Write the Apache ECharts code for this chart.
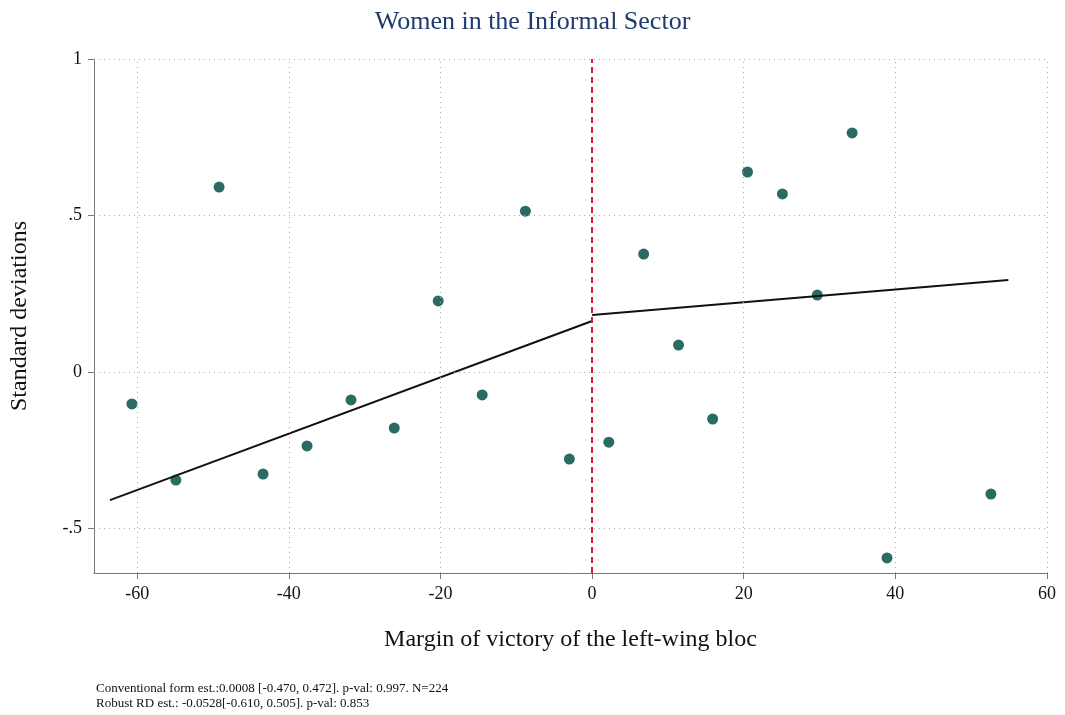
<!DOCTYPE html>
<html><head><meta charset="utf-8">
<script src="https://cdn.jsdelivr.net/npm/echarts@6/dist/echarts.min.js"></script>
<style>html,body{margin:0;background:#fff}#c{width:1065px;height:715px}</style>
</head><body><div id="c"></div>
<script>
var pts = [[-60.7,-0.102],[-54.9,-0.345],[-49.2,0.591],[-43.4,-0.326],[-37.6,-0.236],[-31.8,-0.089],
  [-26.1,-0.179],[-20.3,0.227],[-14.5,-0.073],[-8.8,0.514],[-3.0,-0.278],[2.2,-0.224],[6.8,0.377],
  [11.4,0.086],[15.9,-0.150],[20.5,0.639],[25.1,0.569],[29.7,0.246],[34.3,0.764],[38.9,-0.594],[52.6,-0.390]];
var fitLeft = [[-63.6,-0.409],[0,0.163]];
var fitRight = [[0,0.182],[54.9,0.294]];
var xTicks = [-60,-40,-20,0,20,40,60];
var yTicks = [-0.5,0,0.5,1];
var yLabels = {'-0.5':'-.5','0':'0','0.5':'.5','1':'1'};

var grid = [];
xTicks.forEach(function(v){ grid.push({xAxis:v}); });
yTicks.forEach(function(v){ grid.push({yAxis:v}); });
var serif = 'Liberation Serif';
var chart = echarts.init(document.getElementById('c'));
chart.setOption({
  animation:false,
  title:{text:'Women in the Informal Sector',left:'center',top:4,textStyle:{fontFamily:serif,fontWeight:'normal',fontSize:26,color:'#1f3a6e'}},
  grid:{left:92,right:18,top:59,bottom:142},
  xAxis:{type:'value',min:-65.7,max:60,
    name:'Margin of victory of the left-wing bloc',nameLocation:'middle',nameGap:55,
    nameTextStyle:{fontFamily:serif,fontSize:24,color:'#111'},
    axisLine:{onZero:false,lineStyle:{color:'#777'}},
    axisTick:{customValues:xTicks,length:6,lineStyle:{color:'#777'}},
    axisLabel:{customValues:xTicks,fontFamily:serif,fontSize:18,color:'#111',margin:12},
    splitLine:{show:false}},
  yAxis:{type:'value',min:-0.642,max:1,
    name:'Standard deviations',nameLocation:'middle',nameGap:62,
    nameTextStyle:{fontFamily:serif,fontSize:24,color:'#111'},
    axisLine:{show:true,onZero:false,lineStyle:{color:'#777'}},
    axisTick:{show:true,customValues:yTicks,length:6,lineStyle:{color:'#777'}},
    axisLabel:{customValues:yTicks,fontFamily:serif,fontSize:18,color:'#111',margin:12,
      formatter:function(v){ return yLabels[String(v)]; }},
    splitLine:{show:false}},
  series:[
    {type:'line',data:[],markLine:{silent:true,symbol:'none',label:{show:false},
      lineStyle:{type:[1,4],color:'#aaa',width:1},data:grid}},
    {type:'line',data:[],markLine:{silent:true,symbol:'none',label:{show:false},
      lineStyle:{type:[6,4],color:'#d9183b',width:2},data:[{xAxis:0}]}},
    {type:'scatter',data:pts,symbolSize:11,itemStyle:{color:'#2a6b63',opacity:1}},
    {type:'line',data:fitLeft,showSymbol:false,lineStyle:{color:'#111',width:2}},
    {type:'line',data:fitRight,showSymbol:false,lineStyle:{color:'#111',width:2}}
  ],
  graphic:[
    {type:'text',left:96,top:681,style:{text:'Conventional form est.:0.0008 [-0.470, 0.472]. p-val: 0.997. N=224\nRobust RD est.: -0.0528[-0.610, 0.505]. p-val: 0.853',
      font:'13px "Liberation Serif"',fill:'#111',lineHeight:15}}
  ]
});
</script></body></html>
